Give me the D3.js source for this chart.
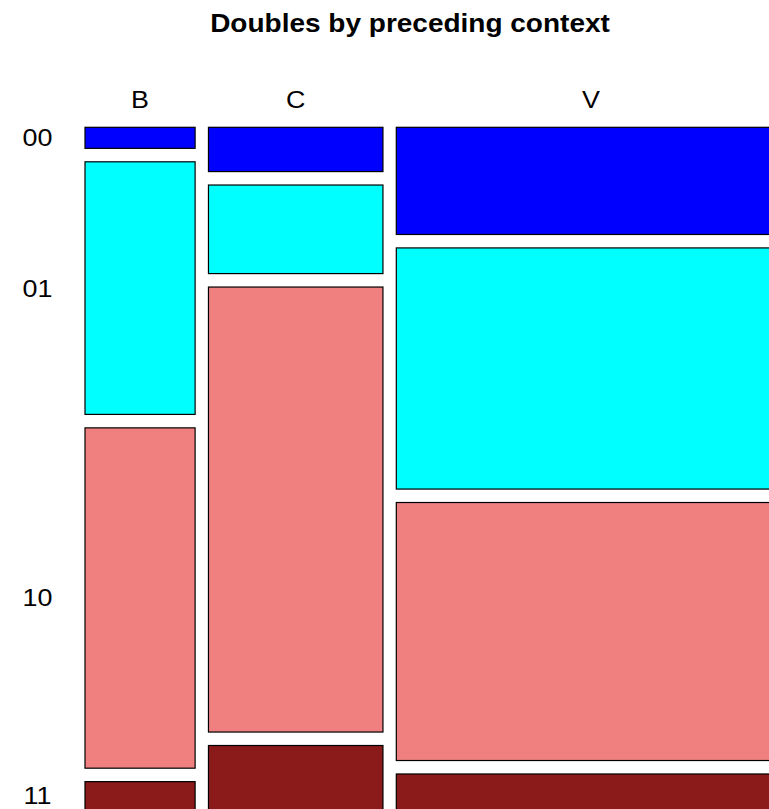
<!DOCTYPE html>
<html>
<head>
<meta charset="utf-8">
<script src="https://cdn.jsdelivr.net/npm/d3@7"></script>
<style>
  html, body { margin: 0; padding: 0; background: #fff; }
  svg { display: block; }
  text { font-family: "Liberation Sans", Arial, Helvetica, sans-serif; fill: #000; }
</style>
</head>
<body>
<svg id="chart" width="769" height="809"></svg>
<script>
// ---- data (counts read from the mosaic) ----
const contexts = ["B", "C", "V"];
const doubles = ["00", "01", "10", "11"];
const countsB = [6, 72, 97, 8];
const countsC = [20, 40, 201, 29];
const countsV = [108, 243, 260, 36];
const fillColors = ["#0000FF", "#00FFFF", "#F08080", "#8B1A1A"];
const titleText = "Doubles by preceding context";

const counts = [countsB, countsC, countsV];

const svg = d3.select("#chart");
const x0 = 85, x1 = 785.6, y0 = 127.3, y1 = 809.7;
const gapX = 13.35, gapY = 13.45;
const stretch = 1.12;

const colTotals = counts.map(c => d3.sum(c));
const grand = d3.sum(colTotals);
const usableW = (x1 - x0) - gapX * (contexts.length - 1);
const usableH = (y1 - y0) - gapY * (doubles.length - 1);

const xScale = d3.scaleLinear().domain([0, grand]).range([0, usableW]);

let cx = x0;
const cols = contexts.map((ctx, i) => {
  const w = xScale(colTotals[i]);
  const col = { ctx, i, x: cx, w };
  cx += w + gapX;
  return col;
});

const cells = [];
cols.forEach(col => {
  const yScale = d3.scaleLinear().domain([0, colTotals[col.i]]).range([0, usableH]);
  let cy = y0;
  doubles.forEach((d, j) => {
    const h = yScale(counts[col.i][j]);
    cells.push({ col: col.i, row: j, x: col.x, w: col.w, y: cy, h });
    cy += h + gapY;
  });
});

svg.selectAll("rect.cell").data(cells).join("rect")
  .attr("class", "cell")
  .attr("x", d => d.x)
  .attr("y", d => d.y)
  .attr("width", d => d.w)
  .attr("height", d => d.h)
  .attr("fill", d => fillColors[d.row])
  .attr("stroke", "#000")
  .attr("stroke-width", 1.2);

// title
svg.append("text")
  .attr("transform", `translate(410,24) scale(${stretch},1)`)
  .attr("text-anchor", "middle")
  .attr("dominant-baseline", "central")
  .attr("font-size", 25)
  .attr("font-weight", "bold")
  .text(titleText);

// column labels
svg.selectAll("text.col").data(cols).join("text")
  .attr("class", "col")
  .attr("transform", d => `translate(${d.x + d.w / 2},100) scale(${stretch},1)`)
  .attr("text-anchor", "middle")
  .attr("dominant-baseline", "central")
  .attr("font-size", 24)
  .text(d => d.ctx);

// row labels (centred on first column's cells)
svg.selectAll("text.row").data(cells.filter(c => c.col === 0)).join("text")
  .attr("class", "row")
  .attr("transform", d => `translate(37.5,${d.y + d.h / 2}) scale(${stretch},1)`)
  .attr("text-anchor", "middle")
  .attr("dominant-baseline", "central")
  .attr("font-size", 24)
  .text(d => doubles[d.row]);
</script>
</body>
</html>
